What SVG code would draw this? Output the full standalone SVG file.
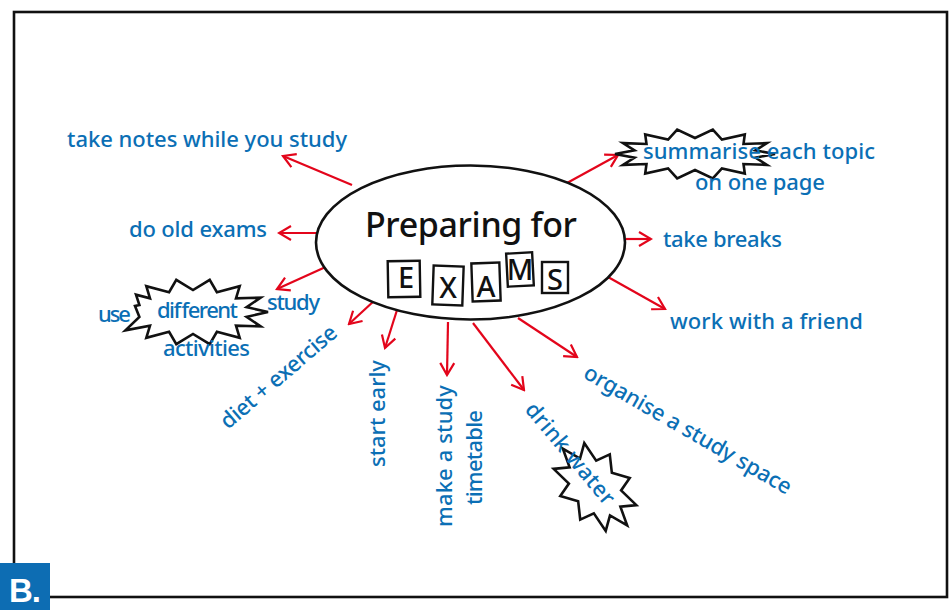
<svg xmlns="http://www.w3.org/2000/svg" width="949" height="610" viewBox="0 0 949 610">
<style>
.lbl{font-family:"Noto Sans","Open Sans",sans-serif;font-size:22px;font-weight:500;fill:#0b6fb5}
.ttl{font-family:"Noto Sans","Open Sans",sans-serif;font-size:34px;font-weight:500;fill:#111}
.let{font-family:"Noto Sans","Open Sans",sans-serif;font-size:29px;font-weight:500;fill:#111;text-anchor:middle}
.box{fill:none;stroke:#111;stroke-width:2.4}
.star{fill:none;stroke:#111;stroke-width:2.6;stroke-linejoin:miter}
.con line{stroke:#e3051b;stroke-width:2.2;fill:none}
</style>
<defs>
<marker id="ah" viewBox="-14 -9 16 18" refX="0" refY="0" markerWidth="16" markerHeight="18" markerUnits="userSpaceOnUse" orient="auto">
<path d="M-12,-7 L0,0 L-12,7" fill="none" stroke="#e3051b" stroke-width="2.2"/>
</marker>
</defs>
<rect x="0" y="0" width="949" height="610" fill="#fff"/>
<rect x="14" y="12" width="933" height="585" fill="none" stroke="#111" stroke-width="2.6"/>

<g id="connectors" class="con">
<line x1="352" y1="185" x2="283" y2="156" marker-end="url(#ah)"/>
<line x1="317" y1="233" x2="279" y2="233" marker-end="url(#ah)"/>
<line x1="330" y1="265" x2="277" y2="289" marker-end="url(#ah)"/>
<line x1="375" y1="300" x2="349" y2="324" marker-end="url(#ah)"/>
<line x1="397" y1="310" x2="385" y2="348" marker-end="url(#ah)"/>
<line x1="448" y1="322" x2="447" y2="375" marker-end="url(#ah)"/>
<line x1="473" y1="323" x2="524" y2="390" marker-end="url(#ah)"/>
<line x1="518" y1="318" x2="577" y2="357" marker-end="url(#ah)"/>
<line x1="608" y1="277" x2="665" y2="309" marker-end="url(#ah)"/>
<line x1="626" y1="239" x2="651" y2="239" marker-end="url(#ah)"/>
<line x1="567" y1="183" x2="618" y2="155" marker-end="url(#ah)"/>
</g>

<g id="center">
<ellipse cx="470.5" cy="242.5" rx="154.5" ry="77" fill="#fff" stroke="#111" stroke-width="2.6"/>
<text class="ttl" x="365" y="237" textLength="212">Preparing for</text>
<rect class="box" x="388" y="261" width="32" height="36" transform="rotate(-1 404 279)"/>
<rect class="box" x="433" y="266" width="30" height="39" transform="rotate(2 448 285)"/>
<rect class="box" x="472" y="263" width="28" height="38" transform="rotate(-2 486 282)"/>
<rect class="box" x="507" y="253" width="26" height="33" transform="rotate(-3 520 270)"/>
<rect class="box" x="542" y="262" width="26" height="31"/>
<text class="let" x="406" y="288">E</text>
<text class="let" x="448" y="298">X</text>
<text class="let" x="486" y="297">A</text>
<text class="let" x="520" y="280" font-size="26">M</text>
<text class="let" x="555" y="290">S</text>
</g>

<g id="n-notes"><text class="lbl" x="67" y="147" textLength="280">take notes while you study</text></g>
<g id="n-oldexams"><text class="lbl" x="129" y="237" textLength="138">do old exams</text></g>
<g id="n-activities">
<polygon class="star" points="268,312 246.6,316.9 260.6,326.3 236,325.7 239.7,337.8 216.9,331.8 209.7,344.2 193,334 176.3,344.2 169.1,331.8 146.3,337.8 150,325.7 125.4,330.3 139.4,316.9 135,306 139.4,305.1 136,294.7 150,298.3 146.3,286.2 169.1,292.2 176.3,279.8 193,290 209.7,279.8 216.9,292.2 239.7,286.2 236,298.3 260.6,297.7 246.6,307.1"/>
<text class="lbl" x="98" y="322" textLength="33">use</text>
<text class="lbl" x="157" y="318" textLength="81">different</text>
<text class="lbl" x="267" y="310" textLength="53">study</text>
<text class="lbl" x="163" y="356" textLength="87">activities</text>
</g>
<g id="n-diet"><text class="lbl" transform="translate(228,430) rotate(-40.6)" textLength="146">diet + exercise</text></g>
<g id="n-early"><text class="lbl" transform="translate(385,467) rotate(-90)" textLength="107">start early</text></g>
<g id="n-timetable">
<text class="lbl" transform="translate(452,527) rotate(-90)" textLength="142">make a study</text>
<text class="lbl" transform="translate(482,505) rotate(-90)" textLength="95">timetable</text>
</g>
<g id="n-water">
<polygon class="star" transform="translate(595,487) rotate(50)" points="50,0 31.4,6.8 40.5,20 19.4,17.8 15.5,32.3 0,22 -15.5,32.3 -19.4,17.8 -40.5,20 -31.4,6.8 -50,0 -31.4,-6.8 -40.5,-20 -19.4,-17.8 -15.5,-32.3 0,-22 15.5,-32.3 19.4,-17.8 40.5,-20 31.4,-6.8"/>
<text class="lbl" transform="translate(524,410) rotate(50)" textLength="126">drink water</text>
</g>
<g id="n-space"><text class="lbl" transform="translate(582,377) rotate(30)" textLength="236">organise a study space</text></g>
<g id="n-friend"><text class="lbl" x="670" y="329" textLength="193">work with a friend</text></g>
<g id="n-breaks"><text class="lbl" x="663" y="247" textLength="119">take breaks</text></g>
<g id="n-summarise">
<polygon class="star" points="775,154 755.5,157.6 767.1,164.9 743.5,164 744.8,173.6 721.9,168.4 712.8,178.4 695,170 677.2,178.4 668.1,168.4 645.2,173.6 646.5,164 622.9,164.9 634.5,157.6 615,154 634.5,150.4 622.9,143.1 646.5,144 645.2,134.4 668.1,139.6 677.2,129.6 695,138 712.8,129.6 721.9,139.6 744.8,134.4 743.5,144 767.1,143.1 755.5,150.4"/>
<text class="lbl" x="643" y="159" textLength="232">summarise each topic</text>
<text class="lbl" x="695" y="190" textLength="130">on one page</text>
</g>

<g id="badge">
<rect x="0" y="563" width="50" height="47" fill="#0d6db3"/>
<text x="9" y="602" font-family="Liberation Sans,Arial,sans-serif" font-weight="bold" font-size="33" fill="#fff" letter-spacing="-1">B.</text>
</g>
</svg>
